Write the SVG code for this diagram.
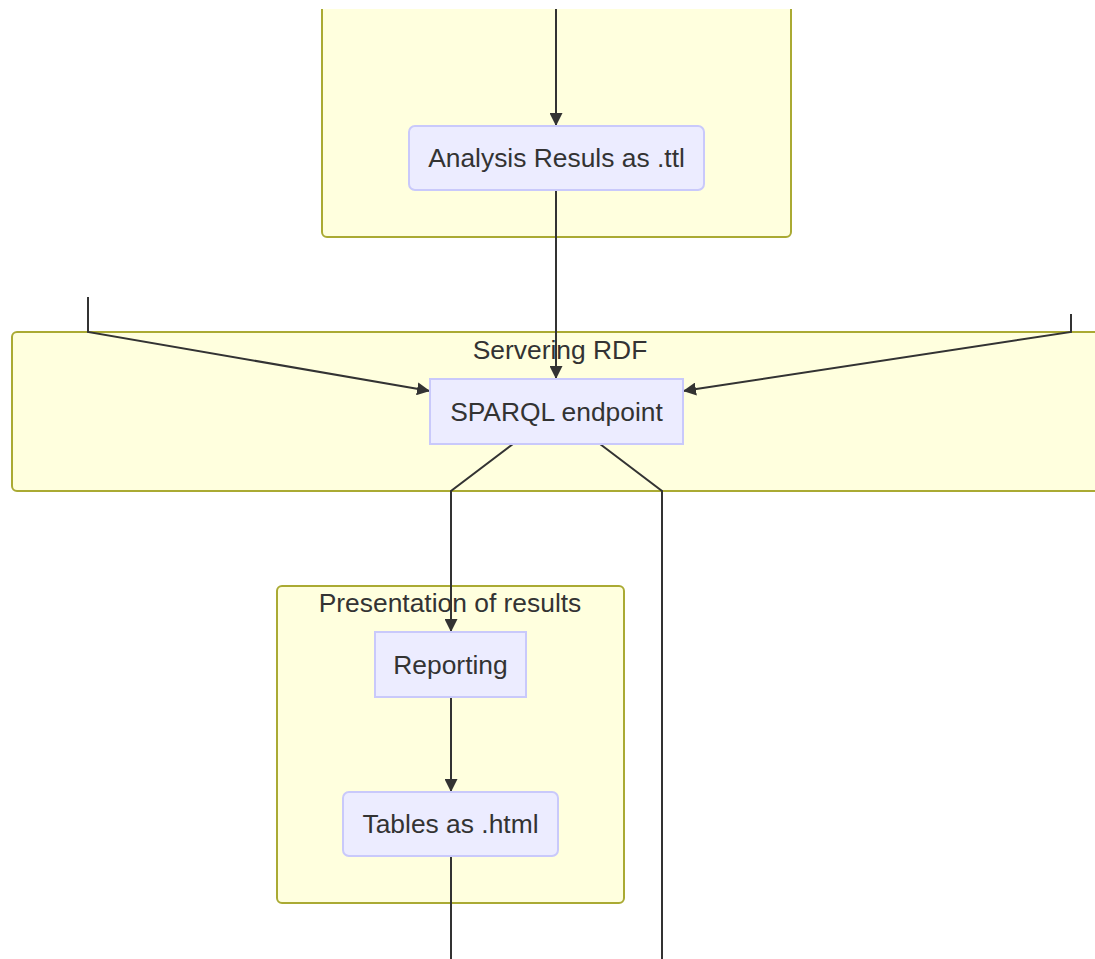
<svg xmlns="http://www.w3.org/2000/svg" width="1095" height="959" viewBox="0 0 1095 959">
<style>
.cl{fill:#ffffde;stroke:#aaaa33;stroke-width:2}
.clf{fill:#ffffde;stroke:none}
.nd{fill:#ececff;stroke:#c9c9fb;stroke-width:2}
.t{font-family:"Liberation Sans",Arial,sans-serif;font-size:26.4px;fill:#333;text-anchor:middle}
.e{fill:none;stroke:#333;stroke-width:2}
</style>
<defs>
<marker id="ah" viewBox="0 0 10 10" refX="10" refY="5" markerWidth="6.5" markerHeight="6.5" markerUnits="strokeWidth" orient="auto">
<path d="M0,0 L10,5 L0,10 z" fill="#333"/>
</marker>
</defs>
<rect width="1095" height="959" fill="#fff"/>
<g id="cluster-analysis">
<path class="clf" d="M322,9 H791 V232 a5,5 0 0 1 -5,5 H327 a5,5 0 0 1 -5,-5 Z"/>
<path class="cl" style="fill:none" d="M322,9 V232 a5,5 0 0 0 5,5 H786 a5,5 0 0 0 5,-5 V9"/>
</g>
<g id="cluster-servering">
<path class="clf" d="M17,332 H1095 V491 H17 a5,5 0 0 1 -5,-5 V337 a5,5 0 0 1 5,-5 Z"/>
<path class="cl" style="fill:none" d="M1096,332 H17 a5,5 0 0 0 -5,5 V486 a5,5 0 0 0 5,5 H1096"/>
<text class="t" x="560" y="359">Servering RDF</text>
</g>
<g id="cluster-presentation">
<rect class="cl" x="277" y="586" width="347" height="317" rx="5"/>
<text class="t" x="450" y="612">Presentation of results</text>
</g>
<g id="connectors">
<path class="e" d="M556,9 V126" marker-end="url(#ah)"/>
<path class="e" d="M556,190 V379" marker-end="url(#ah)"/>
<path class="e" d="M88,297 V332 L430,391" marker-end="url(#ah)"/>
<path class="e" d="M1071,314 V332 L683,391" marker-end="url(#ah)"/>
<path class="e" d="M513,444 L451,491 V632" marker-end="url(#ah)"/>
<path class="e" d="M600,444 L662,491 V959"/>
<path class="e" d="M451,697 V792" marker-end="url(#ah)"/>
<path class="e" d="M451,856 V959"/>
</g>
<g id="node-analysis">
<rect class="nd" x="409" y="126" width="295" height="64" rx="6"/>
<text class="t" x="556.5" y="167">Analysis Resuls as .ttl</text>
</g>
<g id="node-sparql">
<rect class="nd" x="430" y="379" width="253" height="65"/>
<text class="t" x="556.5" y="421">SPARQL endpoint</text>
</g>
<g id="node-reporting">
<rect class="nd" x="375" y="632" width="151" height="65"/>
<text class="t" x="450.5" y="674">Reporting</text>
</g>
<g id="node-tables">
<rect class="nd" x="343" y="792" width="215" height="64" rx="6"/>
<text class="t" x="450.5" y="833">Tables as .html</text>
</g>
</svg>
